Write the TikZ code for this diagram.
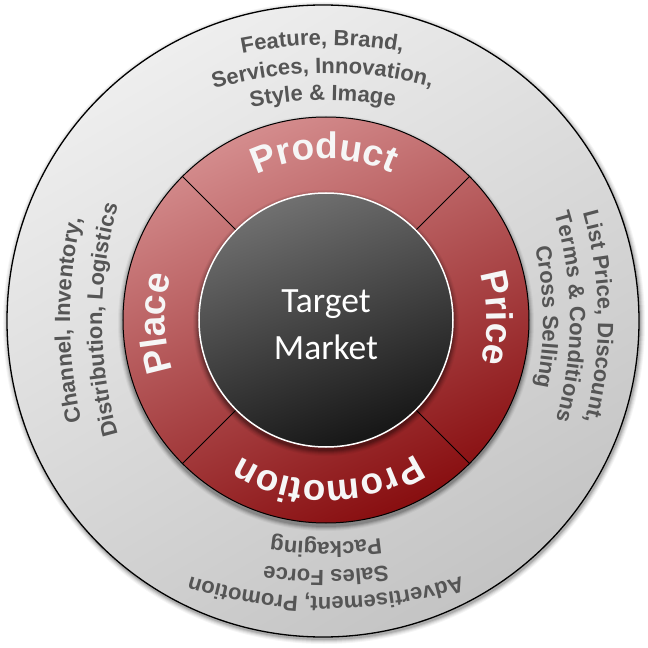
\documentclass[tikz,border=0pt]{standalone}
\usepackage{fontspec}
\newfontfamily\lsans{Liberation Sans}
\newfontfamily\carl{Carlito}
\usetikzlibrary{decorations.text}
\definecolor{outtxt}{HTML}{555555}
\definecolor{ringtxt}{HTML}{F6F6F6}
\definecolor{greyA}{HTML}{EEEEEE}
\definecolor{greyB}{HTML}{C4C4C4}
\definecolor{redA}{HTML}{D48C8D}
\definecolor{redB}{HTML}{880E10}
\definecolor{darkA}{HTML}{707070}
\definecolor{darkB}{HTML}{161616}
\newcommand{\outfont}{\lsans\bfseries\fontsize{22}{22}\selectfont}
\newcommand{\ringfont}{\lsans\bfseries\fontsize{37}{37}\selectfont}
% #1 arc centre (x,y), #2 middle angle, #3 radius, #4 half span, #5 colour, #6 font, #7 text
\newcommand{\arctext}[7]{%
  \path[shift={#1}, decorate, decoration={text along path, text align=center,
      text color=#5, text={|#6|#7}}]
    ({#2+#4}:#3) arc[start angle={#2+#4}, end angle={#2-#4}, radius=#3];}
\begin{document}
\begin{tikzpicture}[x=1pt,y=1pt,
  divider/.style={line width=1pt, black},
  tmtext/.style={text=white, font=\carl\fontsize{35.5}{35.5}\selectfont, inner sep=0pt}]
\useasboundingbox (-326,-328) rectangle (322,320);
% outer disk with soft shadow
\foreach \k/\o in {5/0.04,4/0.05,3/0.07,2/0.09,1/0.12}
  \fill[black, opacity=\o] (-2,-3) circle ({316+\k});
\shade[top color=greyA, bottom color=greyB, shading angle=30] (-3,-1) circle (316);
\draw[line width=1.3pt] (-3,-1) circle (316);
% red ring with shadow
\foreach \k/\o in {5/0.04,4/0.06,3/0.08,2/0.10,1/0.12}
  \fill[black, opacity=\o] (0,-3) circle ({203+\k});
\shade[top color=redA, bottom color=redB, shading angle=25] (0,0) circle (203);
\draw[line width=1pt] (0,0) circle (203);
\foreach \a in {45,135,225,315}
  \draw[divider] (\a:127) -- (\a:203);
% inner dark circle with shadow
\foreach \k/\o in {6/0.04,5/0.05,4/0.07,3/0.09,2/0.11,1/0.13}
  \fill[black, opacity=\o] (0,-3) circle ({127+\k});
\shade[top color=darkA, bottom color=darkB, shading angle=20] (0,0) circle (127);
\draw[white, line width=1.5pt] (0,0) circle (127);
\node[tmtext, anchor=base] (tgt) at (0,7) {Target};
\node[tmtext, anchor=base] (mkt) at (0,-39) {Market};
% ring words
\arctext{(0,0)}{90.8}{161}{60}{ringtxt}{\ringfont}{Product}
\arctext{(0,0)}{0.7}{161}{60}{ringtxt}{\ringfont}{Price}
\arctext{(0,0)}{-89.2}{161}{60}{ringtxt}{\ringfont}{Promotion}
\arctext{(0,0)}{181.2}{161}{60}{ringtxt}{\ringfont}{Place}
% outer texts: top
\arctext{(0,-153)}{90.5}{428}{40}{outtxt}{\outfont}{Feature, Brand,}
\arctext{(0,-153)}{90.5}{400}{40}{outtxt}{\outfont}{Services, Innovation,}
\arctext{(0,-153)}{90.5}{373}{40}{outtxt}{\outfont}{Style {\&} Image}
% right
\arctext{(-121,0)}{0.5}{393}{40}{outtxt}{\outfont}{List Price, Discount,}
\arctext{(-121,0)}{0.5}{365}{40}{outtxt}{\outfont}{Terms {\&} Conditions}
\arctext{(-121,0)}{0.5}{338}{40}{outtxt}{\outfont}{Cross Selling}
% bottom
\arctext{(0,173)}{-90}{450}{40}{outtxt}{\outfont}{Advertisement, Promotion}
\arctext{(0,173)}{-90}{423}{40}{outtxt}{\outfont}{Sales Force}
\arctext{(0,173)}{-90}{395}{40}{outtxt}{\outfont}{Packaging}
% left
\arctext{(192,0)}{180}{448}{40}{outtxt}{\outfont}{Channel, Inventory,}
\arctext{(192,0)}{180}{416}{40}{outtxt}{\outfont}{Distribution, Logistics}
\end{tikzpicture}
\end{document}
